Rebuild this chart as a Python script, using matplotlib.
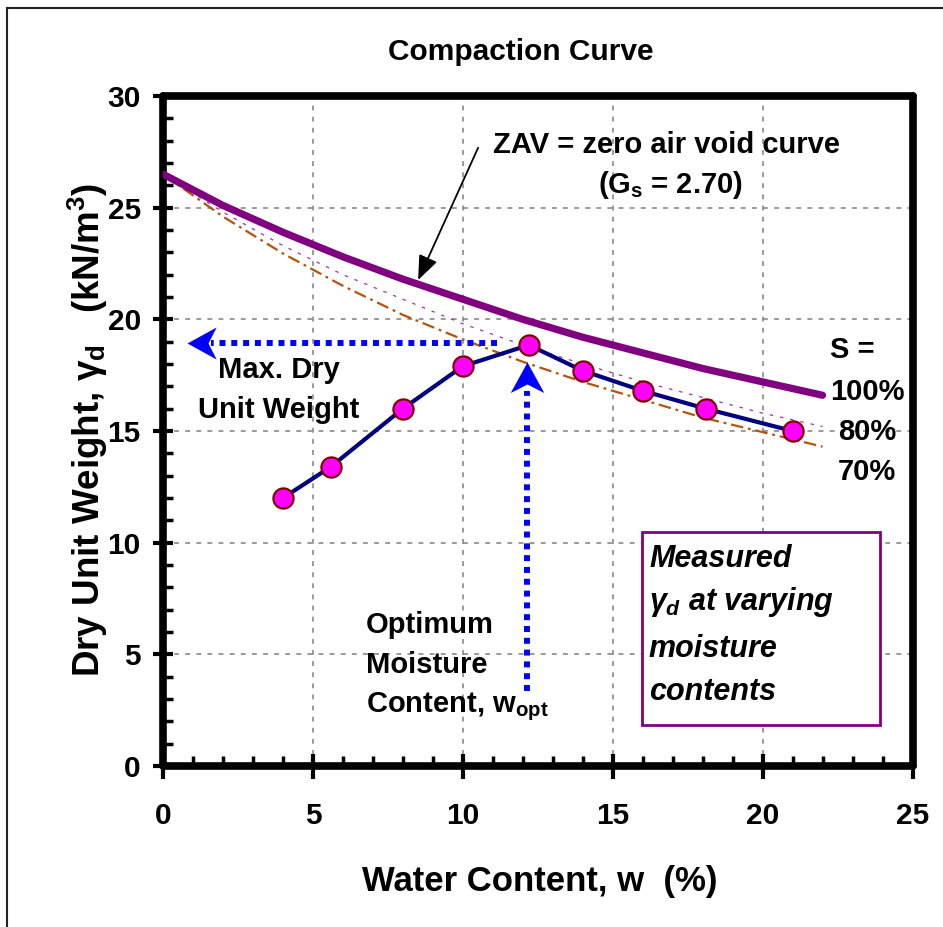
import matplotlib
matplotlib.use("Agg")
import matplotlib.pyplot as plt
from matplotlib.path import Path
from matplotlib.lines import Line2D
from matplotlib.patches import Rectangle

plt.rcParams["font.family"] = ["Liberation Sans", "DejaVu Sans"]
plt.rcParams["font.weight"] = "bold"
plt.rcParams["mathtext.fontset"] = "custom"
plt.rcParams["mathtext.rm"] = "Liberation Sans:bold"
plt.rcParams["mathtext.it"] = "Liberation Sans:italic:bold"
plt.rcParams["mathtext.bf"] = "Liberation Sans:bold"
plt.rcParams["lines.scale_dashes"] = False

# measured compaction points
w_meas = [4.0, 5.6, 8.0, 10.0, 12.2, 14.0, 16.0, 18.1, 21.0]
gd_meas = [12.0, 13.4, 16.0, 17.9, 18.85, 17.7, 16.8, 16.0, 15.0]

# saturation curves (Gs = 2.70)
w_sat = [0, 2, 4, 6, 8, 10, 12, 14, 16, 18, 20, 22]
gd_s100 = [26.5, 25.1, 23.9, 22.8, 21.8, 20.9, 20.0, 19.2, 18.5, 17.8, 17.2, 16.6]
gd_s80 = [26.5, 24.8, 23.3, 22.0, 20.9, 19.8, 18.85, 18.0, 17.2, 16.5, 15.8, 15.2]
gd_s70 = [26.5, 24.6, 22.95, 21.5, 20.2, 19.1, 18.1, 17.2, 16.4, 15.6, 14.95, 14.3]

# optimum point guides
w_opt = 12.13
gd_max = 18.94

x_ticks = [0, 5, 10, 15, 20, 25]
y_ticks = [0, 5, 10, 15, 20, 25, 30]

fig = plt.figure(figsize=(9.43, 9.27), dpi=100)
ax = fig.add_axes([163 / 943, 1 - 766 / 927, (912.5 - 163) / 943, (766 - 96) / 927])

ax.set_xlim(0, 25)
ax.set_ylim(0, 30)
ax.set_xticks(x_ticks)
ax.set_yticks(y_ticks)
ax.set_xticks(range(0, 26), minor=True)
ax.set_yticks(range(0, 31), minor=True)
ax.tick_params(which="major", direction="inout", length=14, width=3,
               labelsize=21.5, color="black")
ax.tick_params(axis="x", which="major", length=18, pad=17)
ax.tick_params(axis="y", which="major", pad=9)
ax.tick_params(which="minor", direction="in", length=7.5, width=2.5)
for lab in ax.get_xticklabels() + ax.get_yticklabels():
    lab.set_fontweight("bold")
for sp in ax.spines.values():
    sp.set_linewidth(5.5)
    sp.set_capstyle("round")

ax.grid(True, which="major", color="#7f7f7f", lw=1.1, dashes=(3.5, 4.5))

# saturation lines
ax.plot(w_sat, gd_s70, color="#B5520F", lw=1.6, dashes=(9, 3.5, 2, 3.5), zorder=3)
ax.plot(w_sat, gd_s80, color="#A030B0", lw=0.9, dashes=(2.5, 5), zorder=3)
ax.plot(w_sat, gd_s100, color="#800080", lw=5.2, solid_capstyle="round", zorder=4)

# blue dotted guide arrows
dot = (4.3, 4.2)
ax.plot([11.14, 1.6], [gd_max, gd_max], color="#0000FF", lw=4.3,
        dashes=dot, dash_capstyle="butt", zorder=5)
ax.plot([w_opt, w_opt], [3.35, 16.8], color="#0000FF", lw=4.3,
        dashes=dot, dash_capstyle="butt", zorder=5)

left_head = Path([(0, 0), (1, 0.55), (0.72, 0), (1, -0.55), (0, 0)],
                 [Path.MOVETO, Path.LINETO, Path.LINETO, Path.LINETO, Path.CLOSEPOLY])
up_head = Path([(0, 0), (-0.55, -1), (0, -0.72), (0.55, -1), (0, 0)],
               [Path.MOVETO, Path.LINETO, Path.LINETO, Path.LINETO, Path.CLOSEPOLY])
ax.plot([0.8], [gd_max], marker=left_head, ms=42, color="#0000FF", mew=0, zorder=6)
ax.plot([w_opt], [18.09], marker=up_head, ms=44, color="#0000FF", mew=0, zorder=6)

# measured curve
ax.plot(w_meas, gd_meas, color="#000080", lw=3, zorder=7,
        marker="o", ms=14.5, mfc="#FF00FF", mec="#800000", mew=1.6)

# annotations
fs = 21
ax.text(16.81, 27.45, "ZAV = zero air void curve", ha="center", va="baseline",
        fontsize=fs, fontweight="bold")
ax.text(16.91, 25.66, r"(G$_\mathrm{s}$ = 2.70)", ha="center", va="baseline",
        fontsize=fs, fontweight="bold")
ax.annotate("", xy=(8.51, 21.76), xytext=(10.51, 27.68),
            arrowprops=dict(arrowstyle="-|>,head_length=1.5,head_width=0.6",
                            color="black", lw=1.3, shrinkA=0, shrinkB=0))

ax.text(3.87, 17.38, "Max. Dry", ha="center", va="baseline", fontsize=fs, fontweight="bold")
ax.text(3.87, 15.58, "Unit Weight", ha="center", va="baseline", fontsize=fs, fontweight="bold")

ax.text(6.77, 5.96, "Optimum", ha="left", va="baseline", fontsize=fs, fontweight="bold")
ax.text(6.77, 4.16, "Moisture", ha="left", va="baseline", fontsize=fs, fontweight="bold")
ax.text(6.77, 2.42, r"Content, w$_\mathrm{opt}$", ha="left", va="baseline",
        fontsize=fs, fontweight="bold")

ax.text(22.25, 18.27, "S =", ha="left", va="baseline", fontsize=fs, fontweight="bold")
ax.text(23.48, 16.39, "100%", ha="center", va="baseline", fontsize=fs, fontweight="bold")
ax.text(23.48, 14.60, "80%", ha="center", va="baseline", fontsize=fs, fontweight="bold")
ax.text(23.48, 12.81, "70%", ha="center", va="baseline", fontsize=fs, fontweight="bold")

ax.add_patch(Rectangle((15.97, 1.84), 23.92 - 15.97, 10.48 - 1.84, fill=True,
                       facecolor="white", edgecolor="#800080", lw=2, zorder=8))
box_lines = ["Measured", r"$\gamma_d$ at varying", "moisture", "contents"]
box_base = [8.91, 6.99, 4.88, 2.96]
for txt, yb in zip(box_lines, box_base):
    ax.text(16.21, yb, txt, ha="left", va="baseline", fontsize=22,
            fontweight="bold", style="italic", zorder=9)

fig.text(520.5 / 943, 1 - 60 / 927, "Compaction Curve", ha="center", va="baseline",
         fontsize=21.5, fontweight="bold")
fig.text(540 / 943, 1 - 882 / 927, "Water Content, w  (%)", ha="center", va="center",
         fontsize=25, fontweight="bold")
fig.text(88 / 943, 1 - 430 / 927, r"Dry Unit Weight, $\mathrm{\gamma_d}$   (kN/m$^3$)",
         ha="center", va="center", rotation=90, fontsize=26.5, fontweight="bold")

# outer frame
fig.add_artist(Line2D([7 / 943, 7 / 943], [0, 1 - 8 / 927], color="#222222", lw=1.5))
fig.add_artist(Line2D([7 / 943, 1], [1 - 8 / 927, 1 - 8 / 927], color="#222222", lw=1.5))

fig.savefig("out.png", dpi=100, facecolor="white")
